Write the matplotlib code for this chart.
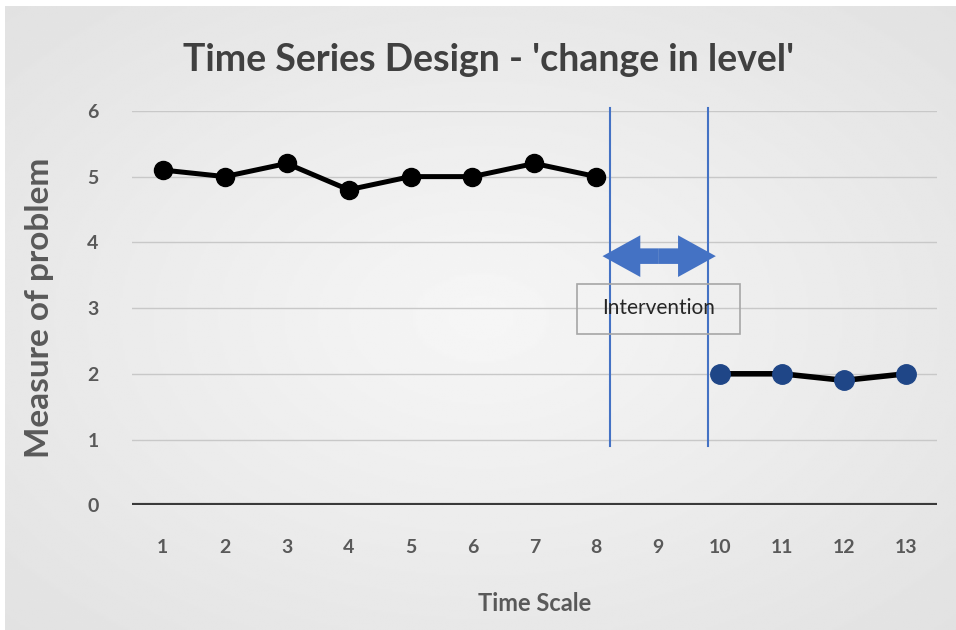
import matplotlib
matplotlib.use("Agg")
import matplotlib.pyplot as plt
import numpy as np
from matplotlib.patches import FancyArrowPatch, Rectangle

plt.rcParams["font.family"] = ["Lato", "DejaVu Sans"]

# data
categories = ["1", "2", "3", "4", "5", "6", "7", "8", "9", "10", "11", "12", "13"]
before_x = [1, 2, 3, 4, 5, 6, 7, 8]
before_y = [5.1, 5.0, 5.2, 4.8, 5.0, 5.0, 5.2, 5.0]
after_x = [10, 11, 12, 13]
after_y = [2.0, 2.0, 1.9, 2.0]
intervention_start = 8.22
intervention_end = 9.8

fig = plt.figure(figsize=(9.56, 6.3), dpi=100)
fig.patch.set_facecolor("white")

# gradient background (radial, light centre to grey edges)
bg = fig.add_axes([0.005, 0.0, 0.995, 0.99], zorder=-10)
gx, gy = np.meshgrid(np.linspace(-1, 1, 400), np.linspace(-1, 1, 300))
r = np.sqrt(gx**2 + gy**2) / np.sqrt(2)
bg.imshow(0.965 - 0.08 * r, cmap="gray", vmin=0, vmax=1, aspect="auto",
          extent=[0, 1, 0, 1])
bg.axis("off")

ax = fig.add_axes([0.138, 0.198, 0.842, 0.626])
ax.patch.set_alpha(0)
ax.set_xlim(0.5, 13.5)
ax.set_ylim(0, 6)

for v in range(1, 7):
    ax.axhline(v, color="#c8c8c8", lw=1, zorder=1)
ax.axhline(0, color="#3a3a3a", lw=3, zorder=2)

for s in ax.spines.values():
    s.set_visible(False)

ax.plot(before_x, before_y, color="black", lw=3.6, marker="o", ms=13,
        mfc="black", mec="black", zorder=4)
ax.plot(after_x, after_y, color="black", lw=4, marker="o", ms=14,
        mfc="#1f4687", mec="#1f4687", zorder=4)

# intervention markers
for xv in (intervention_start, intervention_end):
    ax.plot([xv, xv], [0.9, 6.05], color="#4472c4", lw=1.5, zorder=3,
            clip_on=False)

mid = (intervention_start + intervention_end) / 2
for end in (8.1, 9.93):
    ax.add_patch(FancyArrowPatch(
        (mid, 3.79), (end, 3.79),
        arrowstyle="simple,head_length=0.68,head_width=0.75,tail_width=0.28",
        mutation_scale=40, color="#4472c4", lw=0, shrinkA=0, shrinkB=0,
        zorder=5))

ax.add_patch(Rectangle((7.69, 2.6), 2.63, 0.76, fc="none", ec="#a6a6a6",
                       lw=1.2, zorder=6))
ax.text(9.0, 3.0, "Intervention", ha="center", va="center", fontsize=15,
        color="#262626", zorder=6)

ax.set_xticks(range(1, 14))
ax.set_xticklabels(categories)
ax.set_yticks(range(0, 7))
ax.tick_params(axis="both", length=0, labelsize=14, labelcolor="#595959")
ax.tick_params(axis="x", pad=24)
ax.tick_params(axis="y", pad=24)
for lab in ax.get_xticklabels() + ax.get_yticklabels():
    lab.set_fontweight("bold")

ax.set_xlabel("Time Scale", fontsize=17, fontweight="bold", color="#595959",
              labelpad=26)
ax.set_ylabel("Measure of problem", fontsize=24, fontweight="bold",
              color="#595959", labelpad=24)
fig.text(0.511, 0.905, "Time Series Design - 'change in level'", ha="center",
         va="center", fontsize=27, fontweight="bold", color="#404040")

fig.savefig("out.png", dpi=100)
